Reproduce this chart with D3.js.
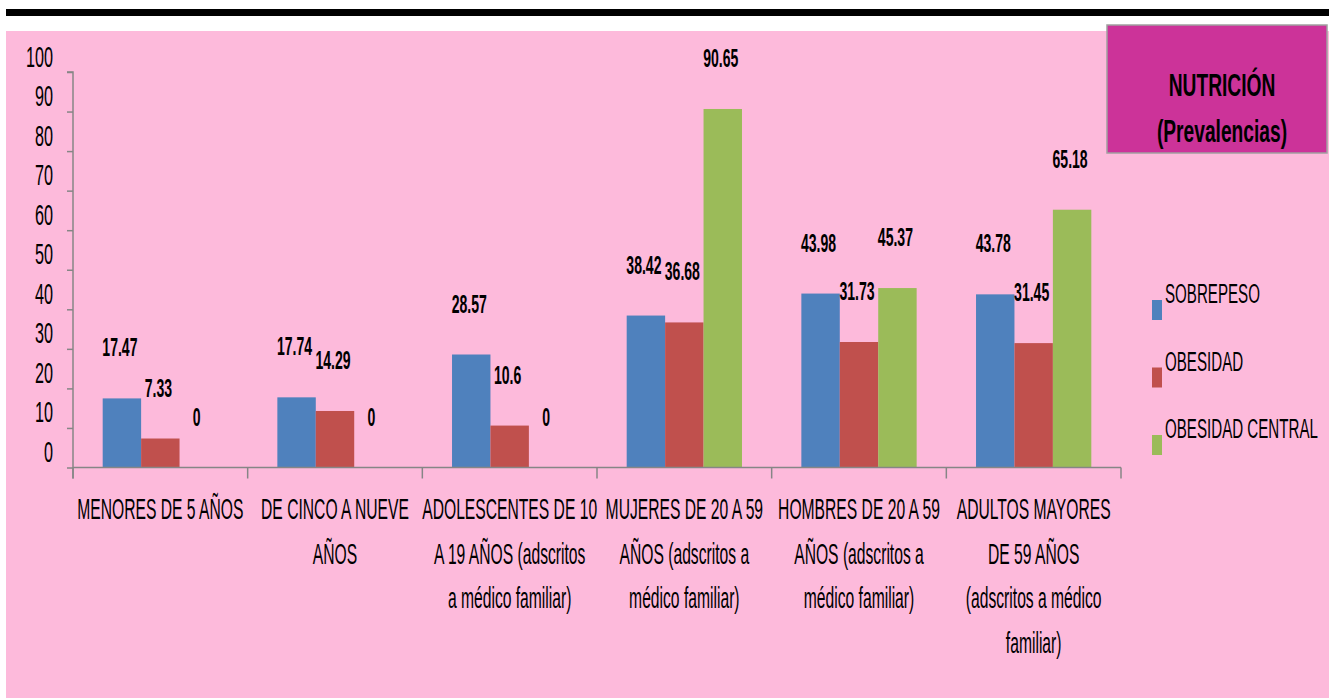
<!DOCTYPE html>
<html>
<head>
<meta charset="utf-8">
<script src="https://cdn.jsdelivr.net/npm/d3@7"></script>
<style>
  html, body { margin: 0; padding: 0; background: #fff; }
  svg { display: block; }
  text { font-family: "Liberation Sans", Arial, sans-serif; fill: #000; }
</style>
</head>
<body>
<svg id="chart" width="1329" height="698"></svg>
<script>
// Prevalence of overweight, obesity and central obesity by population group
const categories = [
  "MENORES DE 5 AÑOS",
  "DE CINCO A NUEVE AÑOS",
  "ADOLESCENTES DE 10 A 19 AÑOS (adscritos a médico familiar)",
  "MUJERES DE 20 A 59 AÑOS (adscritos a médico familiar)",
  "HOMBRES DE 20 A 59 AÑOS (adscritos a médico familiar)",
  "ADULTOS MAYORES DE 59 AÑOS (adscritos a médico familiar)"
];
const categoryLines = [
  ["MENORES DE 5 AÑOS"],
  ["DE CINCO A NUEVE", "AÑOS"],
  ["ADOLESCENTES DE 10", "A 19 AÑOS (adscritos", "a médico familiar)"],
  ["MUJERES DE 20 A 59", "AÑOS (adscritos a", "médico familiar)"],
  ["HOMBRES DE 20 A 59", "AÑOS (adscritos a", "médico familiar)"],
  ["ADULTOS MAYORES", "DE 59 AÑOS", "(adscritos a médico", "familiar)"]
];
const seriesNames = ["SOBREPESO", "OBESIDAD", "OBESIDAD CENTRAL"];
const sobrepeso       = [17.47, 17.74, 28.57, 38.42, 43.98, 43.78];
const obesidad        = [7.33, 14.29, 10.6, 36.68, 31.73, 31.45];
const obesidadCentral = [0, 0, 0, 90.65, 45.37, 65.18];
const yTicks = [0, 10, 20, 30, 40, 50, 60, 70, 80, 90, 100];
const seriesColors = ["#4F81BD", "#C0504D", "#9BBB59"];

const seriesValues = [sobrepeso, obesidad, obesidadCentral];

const svg = d3.select("#chart");
const W = 1329, H = 698;
const SX = 0.54; // horizontal squeeze applied to all text

// page frame: black rule and pink panel
svg.append("rect").attr("x", 6).attr("y", 9).attr("width", W - 6).attr("height", 7).attr("fill", "#000");
svg.append("rect").attr("x", 6).attr("y", 31).attr("width", W - 6).attr("height", H - 31).attr("fill", "#FDBADB");

const plot = { left: 73, right: 1121, top: 72, bottom: 467.5 };

const x0 = d3.scaleBand().domain(categories).range([plot.left, plot.right]).padding(0);
const step = x0.bandwidth();
const gap = step * 0.17;
const x1 = d3.scaleBand().domain(seriesNames).range([gap, step - gap]).padding(0);
const y = d3.scaleLinear().domain([0, 100]).range([plot.bottom, plot.top]);

function label(parent, str, x, yy, opts = {}) {
  return parent.append("text")
    .attr("transform", `translate(${x},${yy}) scale(${opts.sx || SX},1)`)
    .attr("text-anchor", opts.anchor || "middle")
    .attr("font-size", opts.size || 28)
    .attr("font-weight", opts.weight || "normal")
    .text(str);
}

// bars
const groups = svg.append("g").selectAll("g")
  .data(categories)
  .join("g")
  .attr("transform", d => `translate(${x0(d)},0)`);

groups.selectAll("rect")
  .data((c, i) => seriesNames.map((s, k) => ({ s, k, v: seriesValues[k][i] })))
  .join("rect")
  .attr("x", d => x1(d.s))
  .attr("y", d => y(d.v))
  .attr("width", x1.bandwidth())
  .attr("height", d => y(0) - y(d.v))
  .attr("fill", d => seriesColors[d.k]);

// value labels
groups.each(function (c, i) {
  const g = d3.select(this);
  seriesNames.forEach((s, k) => {
    const v = seriesValues[k][i];
    label(g, String(v), x1(s) + x1.bandwidth() / 2 - 2, y(v) - 42, { size: 26, weight: "bold" });
  });
});

// y axis
const yAxis = d3.axisLeft(y).tickValues(yTicks).tickSize(6).tickFormat(d3.format("d"));
const gy = svg.append("g").attr("transform", `translate(${plot.left},0)`).call(yAxis);
gy.select(".domain").attr("stroke", "#868686").attr("stroke-width", 1.5).attr("d", `M-6,${plot.top}H0V${plot.bottom + 11}`);
gy.selectAll(".tick line").attr("stroke", "#868686").attr("stroke-width", 1.5);
gy.selectAll(".tick text")
  .attr("x", 0).attr("dy", null)
  .attr("transform", `translate(-20,-6) scale(${SX},1)`)
  .attr("text-anchor", "end")
  .attr("font-size", 30)
  .attr("font-family", null)
  .style("fill", "#000");

// x axis with ticks at category boundaries
const bounds = categories.map(c => x0(c)).concat([plot.right]);
const gx = svg.append("g");
gx.append("line").attr("x1", plot.left).attr("x2", plot.right)
  .attr("y1", plot.bottom).attr("y2", plot.bottom)
  .attr("stroke", "#868686").attr("stroke-width", 1.5);
gx.selectAll("line.tk").data(bounds).join("line").attr("class", "tk")
  .attr("x1", d => d).attr("x2", d => d)
  .attr("y1", plot.bottom).attr("y2", plot.bottom + 11)
  .attr("stroke", "#868686").attr("stroke-width", 1.5);

// category labels
categories.forEach((c, i) => {
  const cx = x0(c) + step / 2;
  categoryLines[i].forEach((line, j) => {
    label(svg, line, cx, 519 + j * 44.5, { size: 29 });
  });
});

// legend
const legend = svg.append("g");
seriesNames.forEach((s, k) => {
  const top = 300 + k * 67.5;
  legend.append("rect").attr("x", 1152).attr("y", top).attr("width", 10).attr("height", 20)
    .attr("fill", seriesColors[k]);
  label(legend, s, 1165, top + 3, { size: 28, anchor: "start" });
});

// title box
svg.append("rect").attr("x", 1107).attr("y", 25).attr("width", 220).attr("height", 128)
  .attr("fill", "#CC3399").attr("stroke", "#A0A0A0").attr("stroke-width", 1.5);
label(svg, "NUTRICIÓN", 1222, 96, { size: 32, weight: "bold", sx: 0.6 });
label(svg, "(Prevalencias)", 1222, 142, { size: 32, weight: "bold", sx: 0.6 });
</script>
</body>
</html>
